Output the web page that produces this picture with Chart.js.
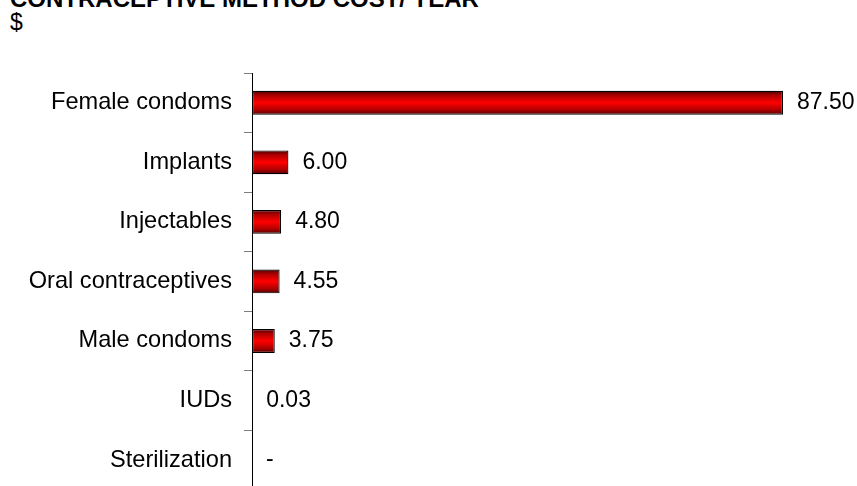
<!DOCTYPE html>
<html>
<head>
<meta charset="utf-8">
<script src="https://cdn.jsdelivr.net/npm/chart.js@4.4.1/dist/chart.umd.min.js"></script>
<style>
  html,body{margin:0;padding:0;background:#fff;overflow:hidden;}
  body{width:857px;height:486px;position:relative;font-family:"Liberation Sans",Arial,sans-serif;}
  #ttl{position:absolute;left:10px;top:-13px;font:bold 24px/24px "Liberation Sans",Arial,sans-serif;color:#000;white-space:nowrap;}
  #unit{position:absolute;left:10px;top:11px;font:23px/23px "Liberation Sans",Arial,sans-serif;color:#000;}
  #wrap{position:absolute;left:0;top:0;width:857px;height:516px;}
</style>
</head>
<body>
<div id="ttl">CONTRACEPTIVE METHOD COST/ YEAR</div>
<div id="unit">$</div>
<div id="wrap"><canvas id="chart"></canvas></div>
<script>
/* 避孕方式年成本 */
const methods = ['Female condoms','Implants','Injectables','Oral contraceptives','Male condoms','IUDs','Sterilization'];
const costs   = [87.5, 6.0, 4.8, 4.55, 3.75, 0.03, 0];

const FONT = '"Liberation Sans", Arial, sans-serif';

// 每根長條做上下漸層（暗紅→亮紅→暗紅）
function barFill(c){
  const chart = c.chart, ys = chart.scales.y;
  if(!ys || !chart.chartArea) return '#e00000';
  const y = ys.getPixelForValue(c.dataIndex);
  const h = (ys.bottom - ys.top) / methods.length * 0.4;
  const g = chart.ctx.createLinearGradient(0, y - h/2, 0, y + h/2);
  g.addColorStop(0, '#500000');
  g.addColorStop(0.2, '#b00000');
  g.addColorStop(0.5, '#ff0000');
  g.addColorStop(0.8, '#b00000');
  g.addColorStop(1, '#500000');
  return g;
}

const valueLabels = {
  id:'valueLabels',
  afterDatasetsDraw(chart){
    const {ctx} = chart;
    const meta = chart.getDatasetMeta(0);
    ctx.save();
    ctx.font = '23px ' + FONT;
    ctx.fillStyle = '#000';
    ctx.textBaseline = 'middle';
    ctx.textAlign = 'left';
    meta.data.forEach((bar,i)=>{
      const v = costs[i];
      const txt = v === 0 ? '-' : v.toFixed(2);
      ctx.fillText(txt, bar.x + 14, bar.y);
    });
    ctx.restore();
  }
};

new Chart(document.getElementById('chart'), {
  type:'bar',
  data:{labels:methods, datasets:[{
    data:costs,
    backgroundColor:barFill,
    borderColor:'#000',
    borderWidth:1.2,
    borderSkipped:false,
    categoryPercentage:1,
    barPercentage:0.4
  }]},
  options:{
    indexAxis:'y',
    responsive:true, maintainAspectRatio:false, animation:false,
    layout:{padding:{top:73, right:74, left:0, bottom:0}},
    plugins:{legend:{display:false}, tooltip:{enabled:false}, title:{display:false}},
    scales:{
      x:{display:false, min:0, max:87.5},
      y:{
        afterFit:s=>{ s.width = 252; },
        grid:{drawOnChartArea:false, drawTicks:true, tickLength:8, color:'#808080', offset:true},
        border:{display:true, color:'#000', width:1},
        ticks:{color:'#000', padding:12, font:{family:FONT, size:23.6}}
      }
    }
  },
  plugins:[valueLabels]
});
</script>
</body>
</html>
